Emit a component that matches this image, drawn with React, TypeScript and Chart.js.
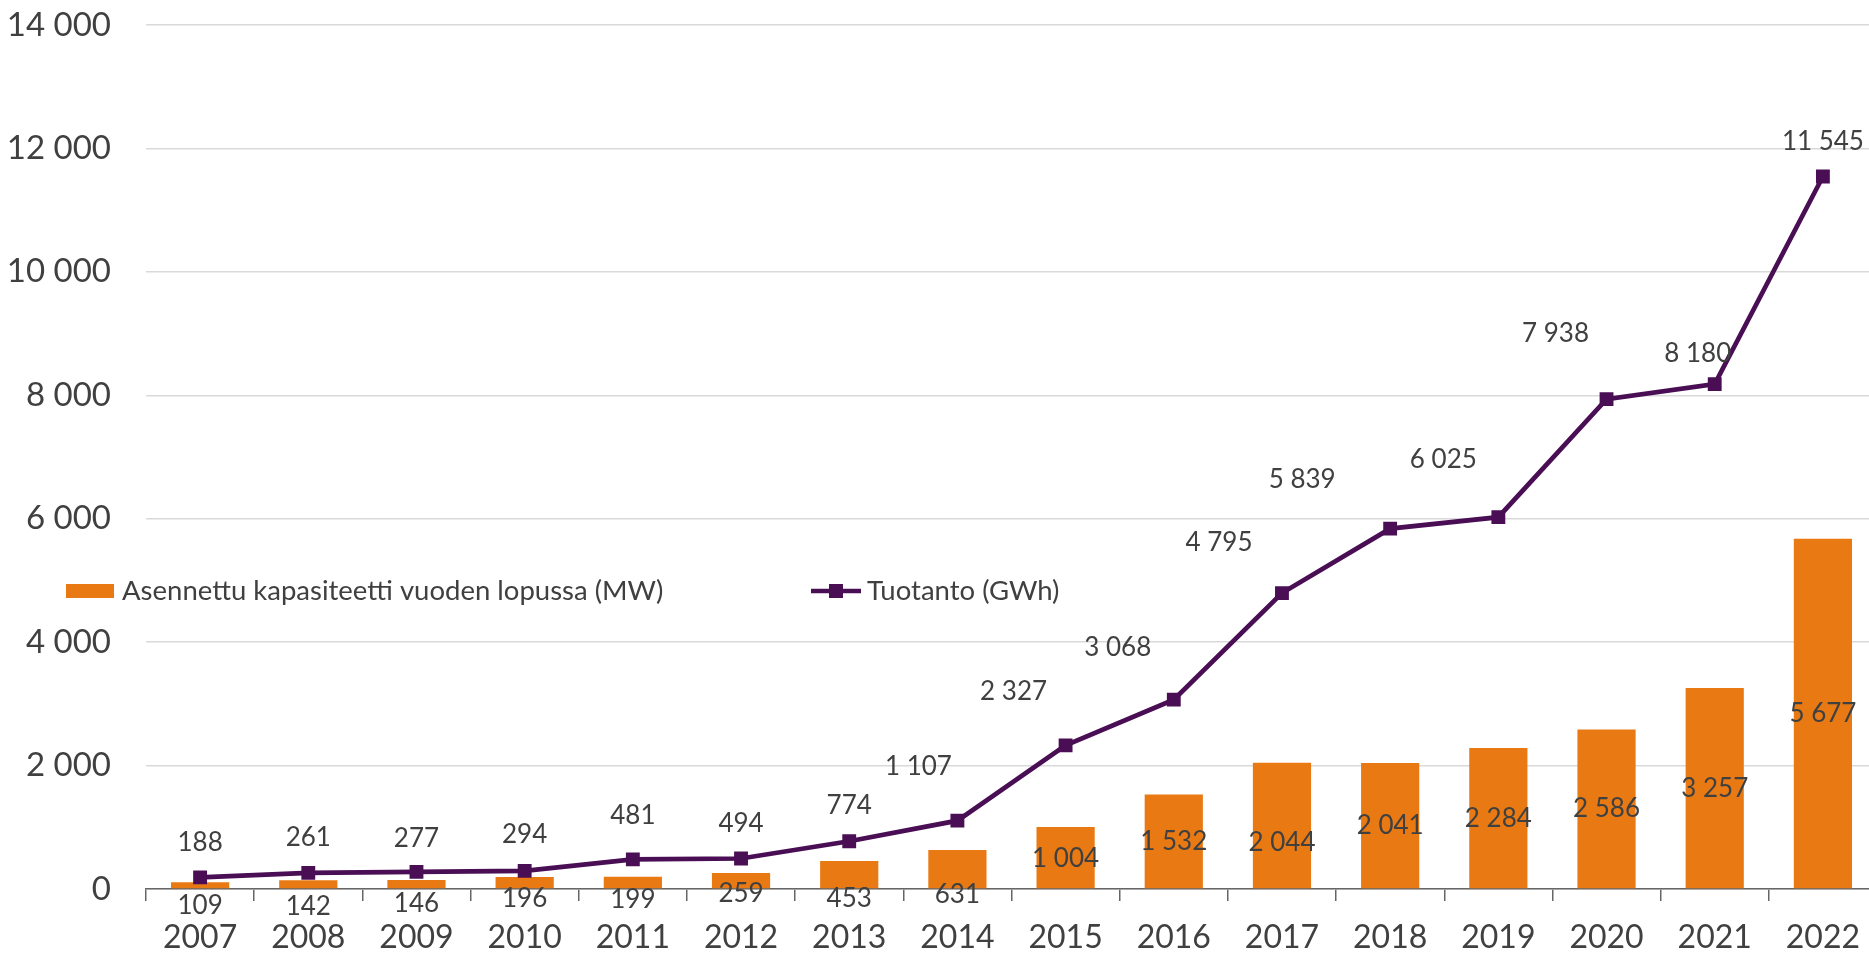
import React, { useEffect, useRef } from 'react';
import { Chart, registerables } from 'chart.js';

Chart.register(...registerables);

// ---- data ----
const years = ['2007', '2008', '2009', '2010', '2011', '2012', '2013', '2014', '2015', '2016', '2017', '2018', '2019', '2020', '2021', '2022'];
const capacityMW = [109, 142, 146, 196, 199, 259, 453, 631, 1004, 1532, 2044, 2041, 2284, 2586, 3257, 5677];
const productionGWh = [188, 261, 277, 294, 481, 494, 774, 1107, 2327, 3068, 4795, 5839, 6025, 7938, 8180, 11545];
const capacityName = 'Asennettu kapasiteetti vuoden lopussa (MW)';
const productionName = 'Tuotanto (GWh)';
const yMin = 0;
const yMax = 14000;
const yStep = 2000;

// ---- label nudges (relative pixel offsets, style only) ----
const lineLabelDx = [0, 0, 0, 0, 0, 0, 0, -39, -52, -56, -63, -88, -55, -51, -17, 0];
const lineLabelDy = [-35, -35, -33, -36, -44, -35, -36, -54, -54, -52, -50, -49, -58, -66, -31, -35];
const barLabelDy = [20, 22, 19, 16, 17, 13, 24, 25, 1, 0, 17, 0, 0, 0, 0, 0];

// ---- style ----
const FONT = 'Lato';
const TEXT = '#404040';
const ORANGE = '#E97A13';
const PURPLE = '#4A0E54';
const CANVAS_W = 1888;
const CANVAS_H = 954;

const fmt = (v: number) => String(v).replace(/\B(?=(\d{3})+(?!\d))/g, ' ');

const valueLabels = {
  id: 'valueLabels',
  afterDatasetsDraw(chart: any) {
    const ctx = chart.ctx;
    ctx.save();
    ctx.font = `26px ${FONT}`;
    ctx.fillStyle = TEXT;
    ctx.textAlign = 'center';
    ctx.textBaseline = 'middle';
    const barMeta = chart.getDatasetMeta(1);
    barMeta.data.forEach((el: any, i: number) => {
      const p = el.getProps(['x', 'y', 'base'], true);
      ctx.fillText(fmt(capacityMW[i]), p.x, (p.y + p.base) / 2 + barLabelDy[i]);
    });
    const lineMeta = chart.getDatasetMeta(0);
    lineMeta.data.forEach((el: any, i: number) => {
      ctx.fillText(fmt(productionGWh[i]), el.x + lineLabelDx[i], el.y + lineLabelDy[i]);
    });
    ctx.restore();
  },
};

const inlineLegend = {
  id: 'inlineLegend',
  afterDraw(chart: any) {
    const ctx = chart.ctx;
    const y = 591;
    ctx.save();
    ctx.font = `27.5px ${FONT}`;
    ctx.textAlign = 'left';
    ctx.textBaseline = 'middle';
    // bar item
    ctx.fillStyle = ORANGE;
    ctx.fillRect(66, y - 7, 48, 14);
    ctx.fillStyle = TEXT;
    ctx.fillText(capacityName, 122, y);
    // line item
    ctx.strokeStyle = PURPLE;
    ctx.lineWidth = 4.7;
    ctx.beginPath();
    ctx.moveTo(811, y);
    ctx.lineTo(861, y);
    ctx.stroke();
    ctx.fillStyle = PURPLE;
    ctx.fillRect(836 - 7, y - 7, 14, 14);
    ctx.fillStyle = TEXT;
    ctx.fillText(productionName, 867, y);
    ctx.restore();
  },
};

export default function App() {
  const ref = useRef<HTMLCanvasElement | null>(null);

  useEffect(() => {
    document.body.style.margin = '0';
    document.body.style.overflow = 'hidden';
    if (!ref.current) return;
    Chart.defaults.font.family = FONT;
    const chart = new Chart(ref.current, {
      type: 'bar',
      data: {
        labels: years,
        datasets: [
          {
            type: 'line',
            label: productionName,
            data: productionGWh,
            borderColor: PURPLE,
            backgroundColor: PURPLE,
            borderWidth: 4.7,
            tension: 0,
            pointStyle: 'rect',
            pointRadius: 9.8,
            pointBorderWidth: 0,
            pointBackgroundColor: PURPLE,
            order: 0,
          } as any,
          {
            type: 'bar',
            label: capacityName,
            data: capacityMW,
            backgroundColor: ORANGE,
            borderWidth: 0,
            categoryPercentage: 1,
            barPercentage: 0.538,
            order: 1,
          },
        ],
      },
      options: {
        responsive: false,
        animation: false,
        layout: { padding: { top: 25, right: CANVAS_W - 1877, left: 0, bottom: 0 } },
        plugins: {
          legend: { display: false },
          tooltip: { enabled: false },
        },
        scales: {
          x: {
            offset: true,
            grid: {
              offset: true,
              drawOnChartArea: false,
              drawTicks: true,
              tickLength: 12,
              color: '#666666',
              lineWidth: 1.5,
            },
            border: { display: true, color: '#666666', width: 1.6 },
            ticks: {
              padding: 17,
              color: TEXT,
              font: { size: 32, family: FONT },
              maxRotation: 0,
              autoSkip: false,
            },
            afterFit: (s: any) => {
              s.height = 65;
              s.paddingLeft = 0;
              s.paddingRight = 0;
            },
          },
          y: {
            min: yMin,
            max: yMax,
            ticks: {
              stepSize: yStep,
              padding: 35,
              color: TEXT,
              font: { size: 33, family: FONT },
              callback: (v: any) => fmt(Number(v)),
            },
            grid: { color: '#D9D9D9', lineWidth: 1.4, drawTicks: false },
            border: { display: false },
            afterFit: (s: any) => {
              s.width = 146;
              s.paddingTop = 0;
              s.paddingBottom = 0;
            },
          },
        },
      },
      plugins: [valueLabels, inlineLegend],
    });
    return () => chart.destroy();
  }, []);

  return (
    <div style={{ width: 1869, height: 954, overflow: 'hidden', position: 'relative', background: '#fff' }}>
      <canvas ref={ref} width={CANVAS_W} height={CANVAS_H} style={{ display: 'block' }} />
    </div>
  );
}
